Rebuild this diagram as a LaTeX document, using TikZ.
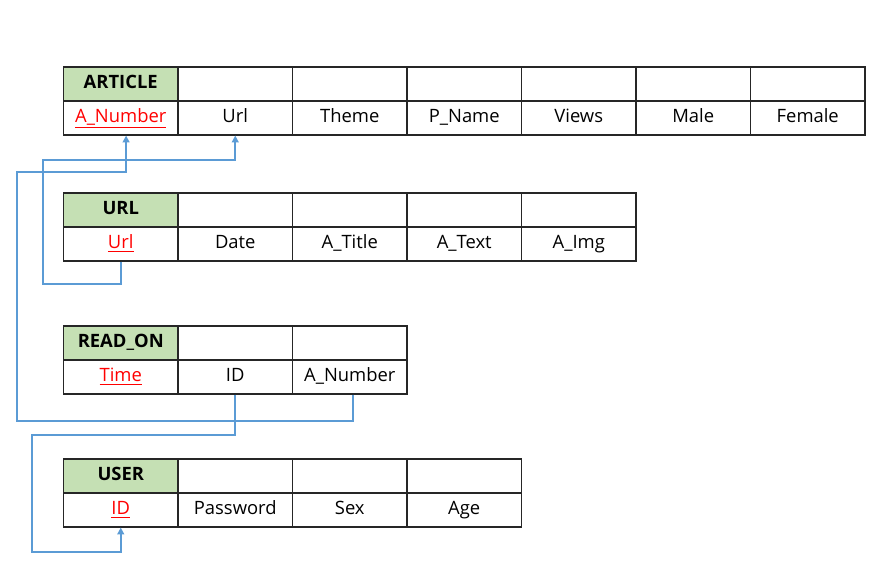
\documentclass[tikz,border=0pt]{standalone}
\usepackage{fontspec}
\setmainfont{Open Sans}
\usetikzlibrary{arrows.meta}
\definecolor{hdrgreen}{HTML}{C5E0B4}
\definecolor{linkblue}{HTML}{5B9BD5}
\definecolor{keyred}{HTML}{FF0000}
\begin{document}
\begin{tikzpicture}[x=0.75pt,y=-0.75pt,
  cell/.style={draw=black!85,line width=0.9pt,minimum width=85.875pt,minimum height=25.5pt,inner sep=0pt,
    font=\fontsize{13.8}{16}\selectfont,text height=10pt,text depth=2.5pt},
  hdr/.style={cell,fill=hdrgreen,font=\fontsize{13.8}{16}\selectfont\bfseries},
  key/.style={cell,text=keyred},
  conn/.style={draw=linkblue,line width=1.6pt},
  connarrow/.style={conn,-{Triangle[length=5pt,width=5pt]}}]
\useasboundingbox (0,0) rectangle (893,566);
% ARTICLE
\node[hdr] (ah) at (120.75,84) {ARTICLE};
\node[cell] (ae1) at (235.25,84) {};
\node[cell] (ae2) at (349.75,84) {};
\node[cell] (ae3) at (464.25,84) {};
\node[cell] (ae4) at (578.75,84) {};
\node[cell] (ae5) at (693.25,84) {};
\node[cell] (ae6) at (807.75,84) {};
\node[key] (a0) at (120.75,118) {\underline{A\_Number}};
\node[cell] (a1) at (235.25,118) {Url};
\node[cell] (a2) at (349.75,118) {Theme};
\node[cell] (a3) at (464.25,118) {P\_Name};
\node[cell] (a4) at (578.75,118) {Views};
\node[cell] (a5) at (693.25,118) {Male};
\node[cell] (a6) at (807.75,118) {Female};
% URL
\node[hdr] (uh) at (120.75,210) {URL};
\node[cell] (ue1) at (235.25,210) {};
\node[cell] (ue2) at (349.75,210) {};
\node[cell] (ue3) at (464.25,210) {};
\node[cell] (ue4) at (578.75,210) {};
\node[key] (u0) at (120.75,244) {\underline{Url}};
\node[cell] (u1) at (235.25,244) {Date};
\node[cell] (u2) at (349.75,244) {A\_Title};
\node[cell] (u3) at (464.25,244) {A\_Text};
\node[cell] (u4) at (578.75,244) {A\_Img};
% READ_ON
\node[hdr] (rh) at (120.75,343) {READ\_ON};
\node[cell] (re1) at (235.25,343) {};
\node[cell] (re2) at (349.75,343) {};
\node[key] (r0) at (120.75,377) {\underline{Time}};
\node[cell] (r1) at (235.25,377) {ID};
\node[cell] (r2) at (349.75,377) {A\_Number};
% USER
\node[hdr] (sh) at (120.75,476) {USER};
\node[cell] (se1) at (235.25,476) {};
\node[cell] (se2) at (349.75,476) {};
\node[cell] (se3) at (464.25,476) {};
\node[key] (s0) at (120.75,510) {\underline{ID}};
\node[cell] (s1) at (235.25,510) {Password};
\node[cell] (s2) at (349.75,510) {Sex};
\node[cell] (s3) at (464.25,510) {Age};
% connectors
\coordinate (c1a) at (43,284);
\coordinate (c1b) at (43,160);
\draw[connarrow] (u0.south) -- (u0.south |- c1a) -- (c1a) -- (c1b) -- (a1.south |- c1b) -- (a1.south);
\coordinate (c2s) at ([xshift=2.5pt]r2.south);
\coordinate (c2e) at ([xshift=4pt]a0.south);
\coordinate (c2a) at (17,421);
\coordinate (c2b) at (17,172);
\draw[connarrow] (c2s) -- (c2s |- c2a) -- (c2a) -- (c2b) -- (c2e |- c2b) -- (c2e);
\coordinate (c3a) at (32,435);
\coordinate (c3b) at (32,552);
\draw[connarrow] (r1.south) -- (r1.south |- c3a) -- (c3a) -- (c3b) -- (s0.south |- c3b) -- (s0.south);
\end{tikzpicture}
\end{document}
